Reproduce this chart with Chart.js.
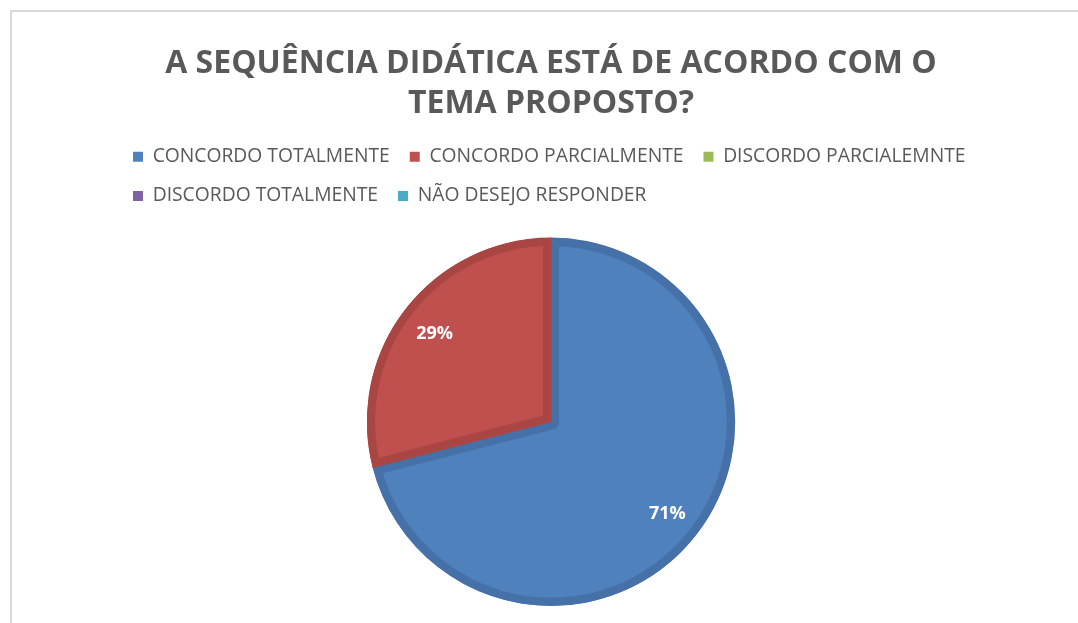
<!DOCTYPE html>
<html>
<head>
<meta charset="utf-8">
<script src="https://cdn.jsdelivr.net/npm/chart.js@4"></script>
<style>
  html, body { margin: 0; padding: 0; background: #fff; overflow: hidden; }
  #frame { position: absolute; left: 10px; top: 10px; width: 1200px; height: 700px;
           border-left: 2px solid #d9d9d9; border-top: 2px solid #d9d9d9; }
  #wrap { position: absolute; left: 0; top: 0; width: 1078px; height: 623px; }
</style>
</head>
<body>
<div id="frame"></div>
<div id="wrap"><canvas id="canvas1"></canvas></div>
<script>
var titleLines = ["A SEQUÊNCIA DIDÁTICA ESTÁ DE ACORDO COM O", "TEMA PROPOSTO?"];
var labels = [
  "CONCORDO TOTALMENTE",
  "CONCORDO PARCIALMENTE",
  "DISCORDO PARCIALEMNTE",
  "DISCORDO TOTALMENTE",
  "NÃO DESEJO RESPONDER",
];
var values = [71, 29, 0, 0, 0];
var fillColors = ["#4F81BD", "#C0504D", "#9BBB59", "#8064A2", "#4BACC6"];
var edgeColors = ["#4571A8", "#A94643", "#89A64E", "#715890", "#4298AF"];

var ctx1 = document.getElementById("canvas1").getContext("2d");

// push the pie down a bit below the legend
var legendGap = {
  id: "legendGap",
  beforeInit: function (chart) {
    var fit = chart.legend.fit;
    chart.legend.fit = function () {
      fit.bind(chart.legend)();
      this.height += 22;
    };
  },
};

// white percentage labels inside the slices
var pctLabels = {
  id: "pctLabels",
  afterDatasetsDraw: function (chart) {
    var ctx = chart.ctx;
    var meta = chart.getDatasetMeta(0);
    ctx.save();
    ctx.fillStyle = "#fff";
    ctx.font = "bold 18px 'Open Sans'";
    ctx.textAlign = "center";
    ctx.textBaseline = "middle";
    meta.data.forEach(function (arc, i) {
      if (!values[i]) return;
      var p = arc.getProps(["x", "y", "startAngle", "endAngle", "outerRadius"], true);
      var mid = (p.startAngle + p.endAngle) / 2;
      var r = p.outerRadius * 0.8;
      ctx.fillText(values[i] + "%", p.x + Math.cos(mid) * r, p.y + Math.sin(mid) * r + 2);
    });
    ctx.restore();
  },
};

let myChart = new Chart(ctx1, {
  type: "pie",
  data: {
    labels: labels,
    datasets: [
      {
        data: values,
        backgroundColor: fillColors,
        borderColor: edgeColors,
        borderWidth: [8, 8, 0, 0, 0],
        borderAlign: "inner",
      },
    ],
  },
  plugins: [legendGap, pctLabels],
  options: {
    responsive: true,
    maintainAspectRatio: false,
    animation: false,
    layout: { padding: { left: 113, right: 89, top: 0, bottom: 17 } },
    plugins: {
      tooltip: { enabled: false },
      title: {
        display: true,
        text: titleLines,
        color: "#595959",
        font: { family: "'Open Sans'", size: 32, weight: "bold", lineHeight: 1.25 },
        padding: { top: 44, bottom: 3 },
      },
      legend: {
        position: "top",
        align: "start",
        labels: {
          boxWidth: 10,
          boxHeight: 10,
          padding: 20,
          color: "#595959",
          font: { family: "'Open Sans'", size: 19.3 },
          generateLabels: function (chart) {
            return labels.map(function (text, i) {
              return {
                text: text,
                fillStyle: fillColors[i],
                strokeStyle: fillColors[i],
                lineWidth: 0,
                fontColor: "#595959",
                hidden: false,
                index: i,
              };
            });
          },
        },
      },
    },
  },
});
</script>
</body>
</html>
